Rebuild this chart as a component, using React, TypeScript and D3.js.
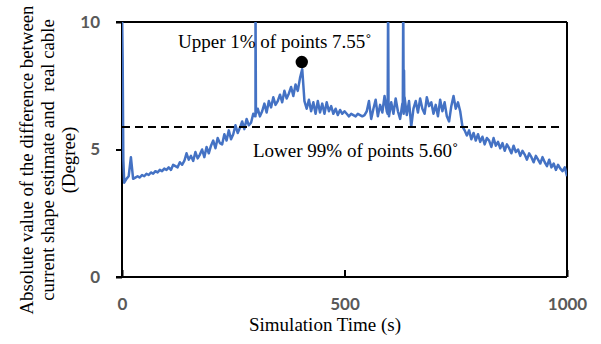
import { useEffect, useRef } from "react"
import * as d3 from "d3"

// absolute angle error (deg), one reading every T_STEP s from t = 5 s to 1000 s
const T_STEP = 5
const ERROR_DEG = [
    3.7, 3.85, 3.95, 4.7, 3.85, 3.9, 3.95, 3.9, 4.0, 3.95,
    4.05, 4.0, 4.1, 4.05, 4.15, 4.1, 4.2, 4.15, 4.25, 4.2,
    4.3, 4.2, 4.4, 4.35, 4.3, 4.5, 4.4, 4.55, 4.85, 4.6,
    4.75, 4.55, 4.9, 4.65, 4.8, 5.0, 4.7, 5.1, 4.85, 5.15,
    5.35, 5.05, 5.45, 5.25, 5.2, 5.6, 5.35, 5.75, 5.4, 5.6,
    5.95, 5.65, 5.85, 6.1, 5.8, 6.2, 5.95, 6.05, 6.4, 6.3,
    6.6, 6.3, 6.5, 6.8, 6.45, 6.9, 6.65, 7.05, 6.75, 6.9,
    7.15, 6.85, 7.3, 7.0, 7.2, 7.45, 7.1, 7.55, 7.3, 7.8,
    8.15, 6.9, 6.6, 6.95, 6.5, 6.85, 6.4, 6.9, 6.45, 6.8,
    6.4, 6.85, 6.5, 6.7, 6.4, 6.6, 6.35, 6.55, 6.4, 6.5,
    6.4, 6.3, 6.4, 6.35, 6.3, 6.4, 6.35, 6.3, 6.35, 6.5,
    6.9, 6.2, 6.6, 6.95, 6.3, 6.75, 6.45, 7.1, 6.5, 6.3,
    6.85, 6.4, 7.0, 6.5, 6.2, 6.8, 7.05, 6.35, 6.9, 5.9,
    6.6, 6.9, 6.45, 7.0, 6.6, 6.4, 7.05, 6.7, 6.85, 6.4,
    6.75, 6.3, 6.95, 6.5, 6.85, 6.3, 6.1, 6.7, 7.1, 6.6,
    6.85, 6.5, 5.9, 5.75, 5.55, 5.75, 5.4, 5.65, 5.35, 5.6,
    5.3, 5.5, 5.2, 5.45, 5.35, 5.1, 5.45, 5.15, 5.3, 5.05,
    5.25, 4.95, 5.2, 5.05, 4.85, 5.15, 4.9, 5.0, 4.75, 4.95,
    4.8, 4.6, 4.85, 4.7, 4.5, 4.75, 4.6, 4.45, 4.7, 4.5,
    4.35, 4.6, 4.3, 4.45, 4.2, 4.4, 4.25, 4.15, 4.3, 3.95
]
// start transient and the short spikes (time s, deg)
const EXTRA_POINTS: [number, number][] = [
    [0, 10.6], [1.5, 8.5], [3, 4.6],
    [299, 6.3], [300, 11], [301, 6.4],
    [597, 6.4], [598, 11], [599, 6.5],
    [631, 6.5], [632, 11], [633, 6.4], [633.8, 8.1], [634.5, 6.5]
]
const X_TICKS = [0, 500, 1000]
const Y_TICKS = [0, 5, 10]
const THRESHOLD = 5.88
const PEAK_MARK: [number, number] = [404, 8.43]
const Y_TITLE = [
    "Absolute value of the difference between",
    "current shape estimate and  real cable",
    "(Degree)"
]
const X_TITLE = "Simulation Time (s)"
const UPPER_LABEL = "Upper 1% of points 7.55˚"
const LOWER_LABEL = "Lower 99% of points 5.60˚"

export default function App() {
    const svgRef = useRef<SVGSVGElement>(null)

    useEffect(() => {
        const svg = d3.select(svgRef.current)
        svg.selectAll("*").remove()
        const left = 122, right = 567, top = 22, bottom = 277

        const x = d3.scaleLinear().domain([0, 1000]).range([left, right])
        const y = d3.scaleLinear().domain([0, 10]).range([bottom, top])

        const points: [number, number][] = ERROR_DEG.map((v, i) => [(i + 1) * T_STEP, v])
        EXTRA_POINTS.forEach(p => points.push(p))
        points.sort((a, b) => a[0] - b[0])

        // y axis (ticks outside)
        const yAxis = svg.append("g")
            .attr("transform", `translate(${left},0)`)
            .call(d3.axisLeft(y).tickValues(Y_TICKS).tickSize(6).tickSizeOuter(0).tickPadding(16))
        // x axis (ticks inside)
        const xAxis = svg.append("g")
            .attr("transform", `translate(0,${bottom})`)
            .call(d3.axisBottom(x).tickValues(X_TICKS).tickFormat(d3.format("d")).tickSize(-7).tickSizeOuter(0).tickPadding(21))
        for (const g of [yAxis, xAxis]) {
            g.select(".domain").remove()
            g.selectAll(".tick line").attr("stroke", "#000").attr("stroke-width", 2)
            g.selectAll(".tick text")
                .attr("fill", "#595959")
                .attr("font-family", "Lato, 'Liberation Sans', sans-serif")
                .attr("font-weight", 700)
                .attr("font-size", 17)
        }

        // frame
        const frame = svg.append("g").attr("stroke", "#000").attr("stroke-width", 2)
        frame.append("line").attr("x1", left - 6).attr("x2", right).attr("y1", top).attr("y2", top)
        frame.append("line").attr("x1", left - 6).attr("x2", right).attr("y1", bottom).attr("y2", bottom)
        frame.append("line").attr("x1", left).attr("x2", left).attr("y1", top).attr("y2", bottom)
        frame.append("line").attr("x1", right).attr("x2", right).attr("y1", top).attr("y2", bottom)

        svg.append("clipPath").attr("id", "plot-clip")
            .append("rect").attr("x", left).attr("y", top).attr("width", right - left).attr("height", bottom - top)

        svg.append("path")
            .datum(points)
            .attr("clip-path", "url(#plot-clip)")
            .attr("fill", "none")
            .attr("stroke", "#4472C4")
            .attr("stroke-width", 2.5)
            .attr("stroke-linejoin", "round")
            .attr("d", d3.line<[number, number]>().x(d => x(d[0])).y(d => y(d[1])))

        // threshold line
        svg.append("line")
            .attr("x1", x(0)).attr("x2", x(1000) - 3)
            .attr("y1", y(THRESHOLD)).attr("y2", y(THRESHOLD))
            .attr("stroke", "#000").attr("stroke-width", 2).attr("stroke-dasharray", "8,5")

        svg.append("circle")
            .attr("cx", x(PEAK_MARK[0])).attr("cy", y(PEAK_MARK[1]))
            .attr("r", 6.2).attr("fill", "#000")

        const serif = "'Times New Roman', 'Liberation Serif', serif"
        svg.append("text").text(UPPER_LABEL)
            .attr("x", 178).attr("y", 48)
            .attr("font-family", serif).attr("font-size", 19)
        svg.append("text").text(LOWER_LABEL)
            .attr("x", 253).attr("y", 157)
            .attr("font-family", serif).attr("font-size", 19)

        svg.append("text").text(X_TITLE)
            .attr("x", 325).attr("y", 331)
            .attr("text-anchor", "middle")
            .attr("font-family", serif).attr("font-size", 19)

        const yTitleX = [33, 54, 75]
        Y_TITLE.forEach((line, i) => {
            svg.append("text").text(line)
                .attr("transform", `translate(${yTitleX[i]},160) rotate(-90)`)
                .attr("text-anchor", "middle")
                .style("white-space", "pre")
                .attr("font-family", serif).attr("font-size", 18.8)
        })
    }, [])

    return (
        <svg ref={svgRef} width={601} height={344}
            style={{ position: "absolute", left: 0, top: 0, background: "#fff" }} />
    )
}
